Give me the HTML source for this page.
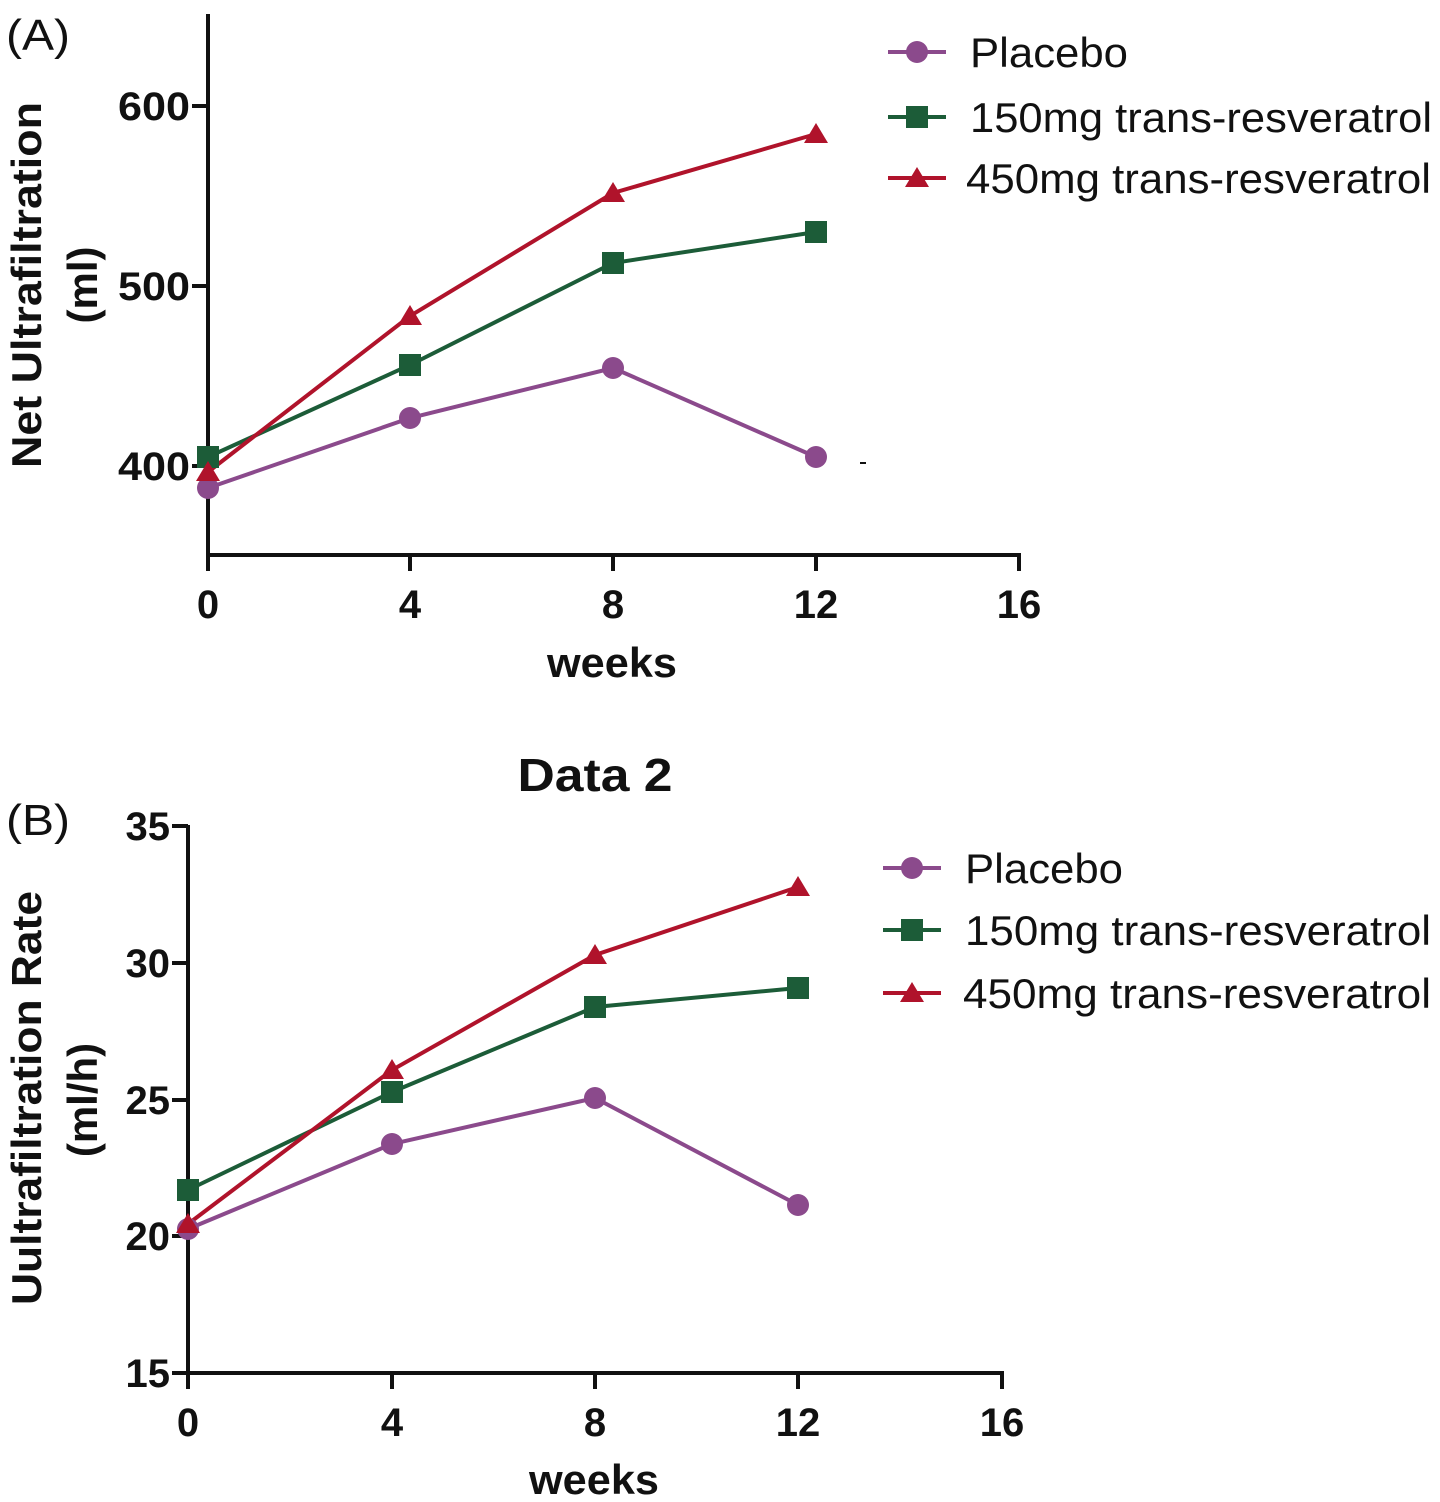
<!DOCTYPE html>
<html><head><meta charset="utf-8"><style>
html,body{margin:0;padding:0;background:#fff;}
svg{display:block;font-family:"Liberation Sans",Arial,sans-serif;}
.t{font-weight:bold;font-size:40px;fill:#111;}
.lg{font-size:42px;fill:#111;}
</style></head><body>
<svg width="1440" height="1502" viewBox="0 0 1440 1502">
<!-- Panel A -->
<text x="6" y="50" font-size="44" fill="#111" textLength="64" lengthAdjust="spacingAndGlyphs">(A)</text>
<g stroke="#111" stroke-width="4" fill="none">
<line x1="208" y1="14" x2="208" y2="557"/>
<line x1="206" y1="555" x2="1021" y2="555"/>
<line x1="192" y1="106" x2="208" y2="106"/><line x1="192" y1="286" x2="208" y2="286"/><line x1="192" y1="466" x2="208" y2="466"/>
<line x1="410" y1="555" x2="410" y2="571"/><line x1="613" y1="555" x2="613" y2="571"/><line x1="816" y1="555" x2="816" y2="571"/><line x1="1019" y1="555" x2="1019" y2="571"/><line x1="208" y1="555" x2="208" y2="571"/>
</g>
<line x1="860" y1="463" x2="866" y2="463" stroke="#111" stroke-width="2"/>
<g class="t" text-anchor="end">
<text x="190" y="120" textLength="72" lengthAdjust="spacingAndGlyphs">600</text><text x="190" y="300" textLength="72" lengthAdjust="spacingAndGlyphs">500</text><text x="190" y="480" textLength="72" lengthAdjust="spacingAndGlyphs">400</text>
</g>
<g class="t" text-anchor="middle">
<text x="208" y="618">0</text><text x="410" y="618">4</text><text x="613" y="618">8</text><text x="816" y="618">12</text><text x="1019" y="618">16</text>
<text x="612" y="677" font-size="42" textLength="130" lengthAdjust="spacingAndGlyphs">weeks</text>
<text transform="translate(41,285) rotate(-90)" font-size="42" textLength="366" lengthAdjust="spacingAndGlyphs">Net Ultrafiltration</text>
<text transform="translate(97,285) rotate(-90)" font-size="42">(ml)</text>
</g>
<polyline points="208,488 410,418 613,368 816,457" fill="none" stroke="#8b4a8c" stroke-width="4"/>
<polyline points="208,457 410,365 613,263 816,232" fill="none" stroke="#1c5c38" stroke-width="4"/>
<polyline points="208,472 410,316 613,193 816,134" fill="none" stroke="#b0132b" stroke-width="4"/>
<g fill="#8b4a8c"><circle cx="208" cy="488" r="11"/><circle cx="410" cy="418" r="11"/><circle cx="613" cy="368" r="11"/><circle cx="816" cy="457" r="11"/></g>
<g fill="#1c5c38"><rect x="197" y="446" width="22" height="22"/><rect x="399" y="354" width="22" height="22"/><rect x="602" y="252" width="22" height="22"/><rect x="805" y="221" width="22" height="22"/></g>
<g fill="#b0132b"><polygon points="208,461 220,481 196,481"/><polygon points="410,305 422,325 398,325"/><polygon points="613,182 625,202 601,202"/><polygon points="816,123 828,143 804,143"/></g>
<line x1="888" y1="52" x2="946" y2="52" stroke="#8b4a8c" stroke-width="4"/><circle cx="917" cy="52" r="11" fill="#8b4a8c"/>
<line x1="888" y1="117" x2="946" y2="117" stroke="#1c5c38" stroke-width="4"/><rect x="906" y="106" width="22" height="22" fill="#1c5c38"/>
<line x1="888" y1="178" x2="946" y2="178" stroke="#b0132b" stroke-width="4"/><polygon points="917,167 929,187 905,187" fill="#b0132b"/>
<text class="lg" x="970" y="67" textLength="158" lengthAdjust="spacingAndGlyphs">Placebo</text>
<text class="lg" x="970" y="132" textLength="462" lengthAdjust="spacingAndGlyphs">150mg trans-resveratrol</text>
<text class="lg" x="966" y="193" textLength="465" lengthAdjust="spacingAndGlyphs">450mg trans-resveratrol</text>

<!-- Panel B -->
<text x="595" y="791" text-anchor="middle" font-size="46" font-weight="bold" fill="#111" textLength="155" lengthAdjust="spacingAndGlyphs">Data 2</text>
<text x="6" y="835" font-size="44" fill="#111" textLength="64" lengthAdjust="spacingAndGlyphs">(B)</text>
<g stroke="#111" stroke-width="4" fill="none">
<line x1="188" y1="825" x2="188" y2="1375"/>
<line x1="186" y1="1373" x2="1004" y2="1373"/>
<line x1="172" y1="826" x2="188" y2="826"/><line x1="172" y1="963" x2="188" y2="963"/><line x1="172" y1="1100" x2="188" y2="1100"/><line x1="172" y1="1236" x2="188" y2="1236"/><line x1="172" y1="1373" x2="188" y2="1373"/>
<line x1="188" y1="1373" x2="188" y2="1389"/><line x1="392" y1="1373" x2="392" y2="1389"/><line x1="595" y1="1373" x2="595" y2="1389"/><line x1="798" y1="1373" x2="798" y2="1389"/><line x1="1002" y1="1373" x2="1002" y2="1389"/>
</g>
<g class="t" text-anchor="end">
<text x="170" y="840">35</text><text x="170" y="977">30</text><text x="170" y="1114">25</text><text x="170" y="1250">20</text><text x="170" y="1387">15</text>
</g>
<g class="t" text-anchor="middle">
<text x="188" y="1436">0</text><text x="392" y="1436">4</text><text x="595" y="1436">8</text><text x="798" y="1436">12</text><text x="1002" y="1436">16</text>
<text x="594" y="1494" font-size="42" textLength="130" lengthAdjust="spacingAndGlyphs">weeks</text>
<text transform="translate(41,1098) rotate(-90)" font-size="42" textLength="414" lengthAdjust="spacingAndGlyphs">Uultrafiltration Rate</text>
<text transform="translate(97,1100) rotate(-90)" font-size="42">(ml/h)</text>
</g>
<polyline points="188,1229 392,1144 595,1098 798,1205" fill="none" stroke="#8b4a8c" stroke-width="4"/>
<polyline points="188,1190 392,1092 595,1007 798,988" fill="none" stroke="#1c5c38" stroke-width="4"/>
<polyline points="188,1224 392,1070 595,955 798,887" fill="none" stroke="#b0132b" stroke-width="4"/>
<g fill="#8b4a8c"><circle cx="188" cy="1229" r="11"/><circle cx="392" cy="1144" r="11"/><circle cx="595" cy="1098" r="11"/><circle cx="798" cy="1205" r="11"/></g>
<g fill="#1c5c38"><rect x="177" y="1179" width="22" height="22"/><rect x="381" y="1081" width="22" height="22"/><rect x="584" y="996" width="22" height="22"/><rect x="787" y="977" width="22" height="22"/></g>
<g fill="#b0132b"><polygon points="188,1213 200,1233 176,1233"/><polygon points="392,1059 404,1079 380,1079"/><polygon points="595,944 607,964 583,964"/><polygon points="798,876 810,896 786,896"/></g>
<line x1="883" y1="868" x2="941" y2="868" stroke="#8b4a8c" stroke-width="4"/><circle cx="912" cy="868" r="11" fill="#8b4a8c"/>
<line x1="883" y1="930" x2="941" y2="930" stroke="#1c5c38" stroke-width="4"/><rect x="901" y="919" width="22" height="22" fill="#1c5c38"/>
<line x1="883" y1="993" x2="941" y2="993" stroke="#b0132b" stroke-width="4"/><polygon points="912,982 924,1002 900,1002" fill="#b0132b"/>
<text class="lg" x="965" y="883" textLength="158" lengthAdjust="spacingAndGlyphs">Placebo</text>
<text class="lg" x="965" y="945" textLength="466" lengthAdjust="spacingAndGlyphs">150mg trans-resveratrol</text>
<text class="lg" x="963" y="1008" textLength="468" lengthAdjust="spacingAndGlyphs">450mg trans-resveratrol</text>
</svg>
</body></html>
